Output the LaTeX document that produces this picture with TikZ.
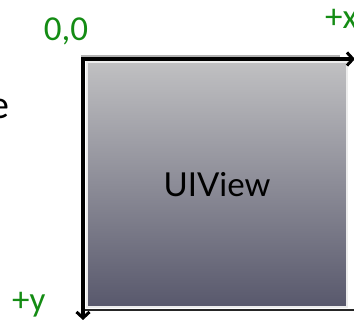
\documentclass[tikz,border=0pt]{standalone}
\usepackage{fontspec}
\setmainfont{Carlito}
\newfontfamily\viewfont{Lato}
\usetikzlibrary{arrows.meta}
\definecolor{lblgreen}{RGB}{20,140,20}
\definecolor{boxtop}{RGB}{192,192,194}
\definecolor{boxbot}{RGB}{88,88,108}
\tikzset{
  axis/.style={line width=3.5pt, draw=black, -{Straight Barb[length=6pt,width=13pt,line width=3pt]}},
  lbl/.style={text=lblgreen, font=\fontsize{35}{38}\selectfont, inner sep=0pt},
}
\begin{document}
\begin{tikzpicture}[x=1pt,y=-1pt]
\useasboundingbox (0,0) rectangle (354,320);
% partial text at left edge
\node[anchor=east, inner sep=0pt, font=\fontsize{40}{44}\selectfont] (cut) at (10,109) {e};
% shadow under box
\draw[line width=2pt, black!85] (84,310) -- (354,310);
% view box
\shade[top color=boxtop, bottom color=boxbot] (87,62) rectangle (347,307);
\draw[white!85!gray, line width=1.3pt] (87,62) rectangle (347,307);
\node[inner sep=0pt, font=\viewfont\fontsize{33}{36}\selectfont] (view) at (217,185) {UIView};
% axes
\coordinate (o) at (83,59);
\coordinate (xend) at (355,59);
\coordinate (yend) at (83,320);
\draw[line width=3.5pt, gray!60] (81,57) -- (340,57);
\draw[axis] (81.25,59) -- (xend);
\draw[axis] (83,57.25) -- (yend);
% labels
\node[lbl, anchor=base] (origin) at (66,41) {0,0};
\node[lbl, anchor=base west] (px) at (325,29) {+x};
\node[lbl, anchor=base west] (py) at (12,312) {+y};
\end{tikzpicture}
\end{document}
